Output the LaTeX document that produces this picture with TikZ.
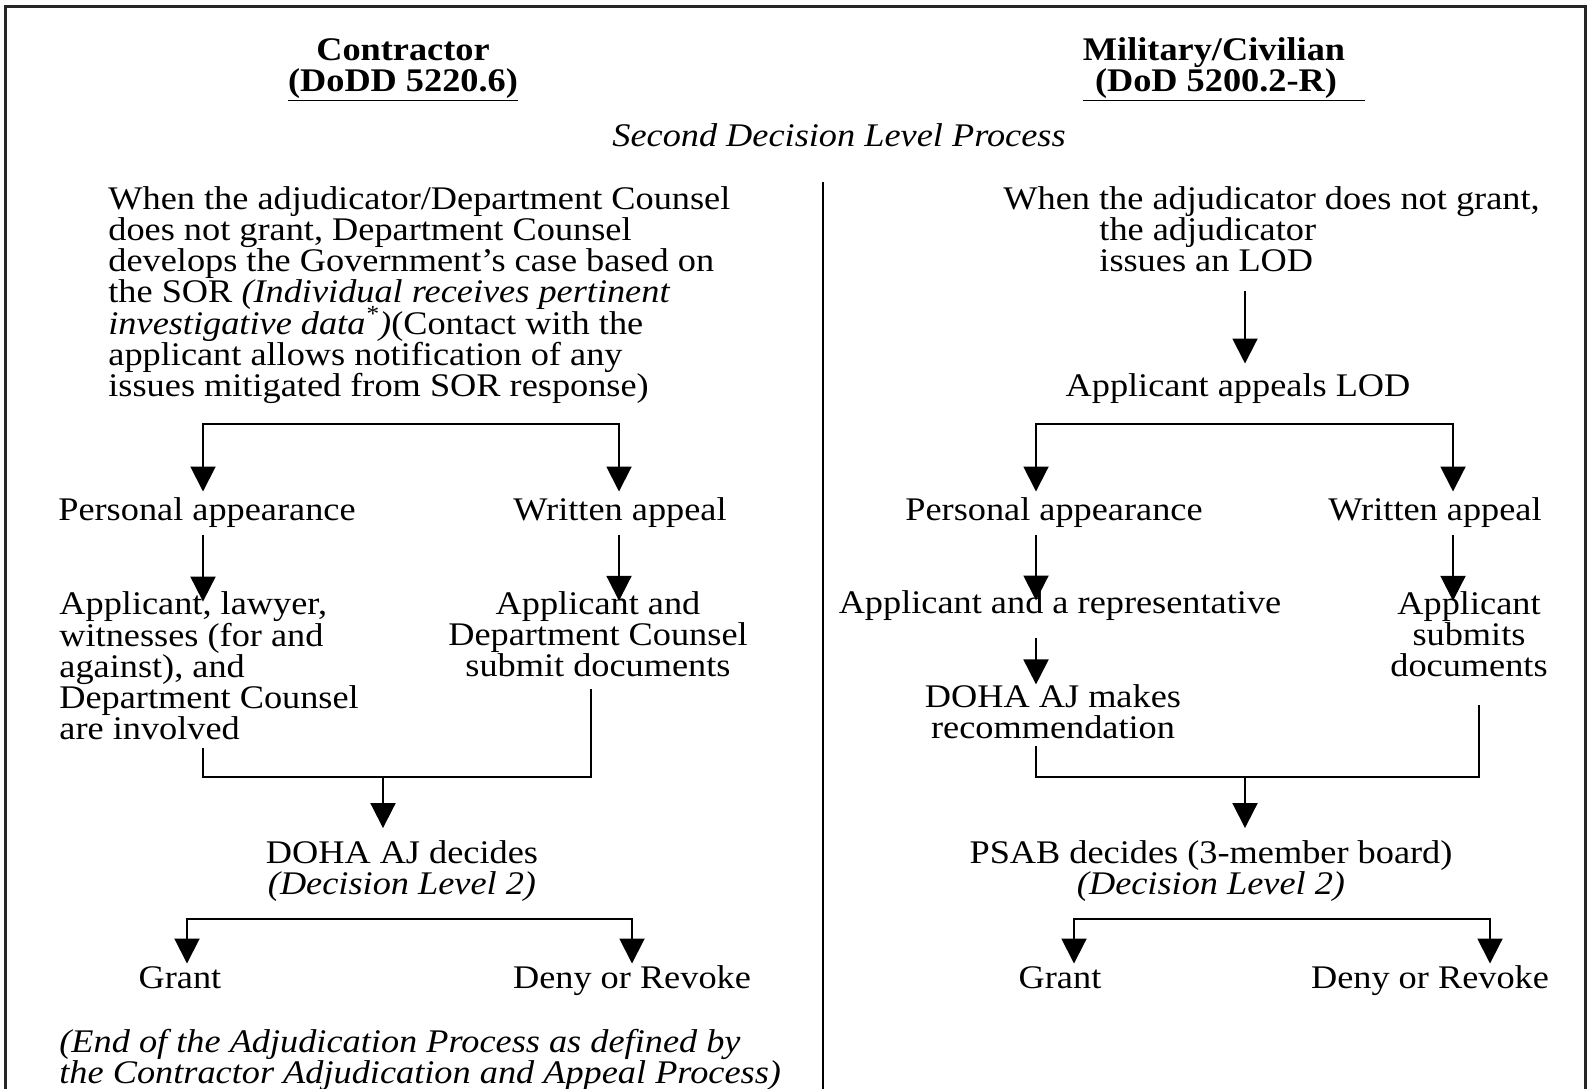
\documentclass[tikz,border=0pt]{standalone}
\usepackage{fontspec}
\setmainfont{Liberation Serif}[FakeStretch=1.1]
\usetikzlibrary{arrows.meta}
\newcommand{\mysz}{\fontsize{16.5pt}{15.6pt}\selectfont\lineskiplimit=-20pt\lineskip=0pt}
\begin{document}
\begin{tikzpicture}[x=0.5pt,y=-0.5pt,
  txt/.style={inner sep=0pt, font=\mysz, align=center},
  sl/.style={txt, text height=11.5pt, text depth=3.6pt},
  ttl/.style={txt, anchor=base, font=\mysz\bfseries},
  ln/.style={line width=1pt, draw=black},
  arr/.style={ln, -{Triangle[width=12.5pt,length=12.5pt]}},
  arrboth/.style={ln, {Triangle[width=12.5pt,length=12.5pt]}-{Triangle[width=12.5pt,length=12.5pt]}},
  frame/.style={line width=1.5pt, draw=black!85}]
\useasboundingbox (0,0) rectangle (1589,1088);
% frame and divider
\draw[frame] (5,1100) -- (5,6) -- (1585,6) -- (1585,1100);
\draw[ln] (823,182) -- (823,1100);
% titles
\node[ttl] (t1) at (403,60) {Contractor};
\node[ttl] (t1b) at (403,91) {\underline{(DoDD 5220.6)}};
\node[ttl] (t2) at (1214,60) {Military/Civilian};
\node[ttl] (t2b) at (1224,91) {\underline{\hspace{6pt}(DoD 5200.2-R)\hspace{14pt}}};
\node[txt, font=\mysz\itshape] (sub) at (839,135) {Second Decision Level Process};
% left column
\node[txt, anchor=west, align=left] (lb) at (108,295) {When the adjudicator/Department Counsel\\does not grant, Department Counsel\\develops the Government’s case based on\\the SOR \textit{(Individual receives pertinent}\\\textit{investigative data\textsuperscript{*})}(Contact with the\\applicant allows notification of any\\issues mitigated from SOR response)};
\node[sl] (pa1) at (207,513) {Personal appearance};
\node[sl] (wa1) at (620,513) {Written appeal};
\node[txt, anchor=west, align=left] (ap1) at (59,666) {Applicant, lawyer,\\witnesses (for and\\against), and\\Department Counsel\\are involved};
\node[txt] (ad1) at (598,634) {Applicant and\\Department Counsel\\submit documents};
\node[txt] (dj1) at (402,871) {DOHA AJ decides\\\textit{(Decision Level 2)}};
\node[sl] (g1) at (180,981) {Grant};
\node[sl] (dr1) at (632,981) {Deny or Revoke};
\node[txt, anchor=west, align=left, font=\mysz\itshape] (end1) at (59,1060) {(End of the Adjudication Process as defined by\\the Contractor Adjudication and Appeal Process)};
% right column
\node[txt, anchor=west, align=left] (rb) at (1003,229) {When the adjudicator does not grant,\\\hspace*{48pt}the adjudicator\\\hspace*{48pt}issues an LOD};
\node[sl] (aa) at (1238,389) {Applicant appeals LOD};
\node[sl] (pa2) at (1054,513) {Personal appearance};
\node[sl] (wa2) at (1435,513) {Written appeal};
\node[sl] (ar2) at (1060,606) {Applicant and a representative};
\node[txt] (as2) at (1469,634) {Applicant\\submits\\documents};
\node[txt] (dm2) at (1053,712) {DOHA AJ makes\\recommendation};
\node[txt] (ps2) at (1211,871) {PSAB decides (3-member board)\\\textit{(Decision Level 2)}};
\node[sl] (g2) at (1060,981) {Grant};
\node[sl] (dr2) at (1430,981) {Deny or Revoke};
% coordinates
\coordinate (bl1) at (203,424);
\coordinate (br1) at (619,424);
\coordinate (m1L) at (203,777);
\coordinate (m1R) at (591,777);
\coordinate (m1) at (383,777);
\coordinate (gl1) at (187,919);
\coordinate (gr1) at (632,919);
\coordinate (r0) at (1245,291);
\coordinate (bl2) at (1036,424);
\coordinate (br2) at (1453,424);
\coordinate (m2L) at (1036,777);
\coordinate (m2R) at (1479,777);
\coordinate (m2) at (1245,777);
\coordinate (gl2) at (1074,919);
\coordinate (gr2) at (1490,919);
% left connectors
\draw[arrboth] ([yshift=3pt]pa1.north -| bl1) -- (bl1) -- (br1) -- ([yshift=3pt]wa1.north -| br1);
\draw[arr, shorten <=3pt] (pa1.south -| bl1) -- ([yshift=-5pt]ap1.north -| bl1);
\draw[arr, shorten <=3pt] (wa1.south -| br1) -- ([yshift=-5pt]ad1.north -| br1);
\draw[ln, shorten <=4pt] (ap1.south -| m1L) -- (m1L) -- (m1R) -- ([yshift=-6pt]ad1.south -| m1R);
\draw[arr] (m1) -- ([yshift=6pt]dj1.north -| m1);
\draw[arrboth] ([yshift=1pt]g1.north -| gl1) -- (gl1) -- (gr1) -- ([yshift=1pt]dr1.north -| gr1);
% right connectors
\draw[arr] (r0) -- ([yshift=5pt]aa.north -| r0);
\draw[arrboth] ([yshift=3pt]pa2.north -| bl2) -- (bl2) -- (br2) -- ([yshift=3pt]wa2.north -| br2);
\draw[arr, shorten <=3pt] (pa2.south -| bl2) -- ([yshift=-5pt]ar2.north -| bl2);
\draw[arr, shorten <=3pt] (wa2.south -| br2) -- ([yshift=-5pt]as2.north -| br2);
\draw[arr, shorten <=8pt] (ar2.south -| bl2) -- (dm2.north -| bl2);
\draw[ln] ([yshift=-3pt]dm2.south -| m2L) -- (m2L) -- (m2R) -- ([yshift=-14pt]as2.south -| m2R);
\draw[arr] (m2) -- ([yshift=6pt]ps2.north -| m2);
\draw[arrboth] ([yshift=1pt]g2.north -| gl2) -- (gl2) -- (gr2) -- ([yshift=1pt]dr2.north -| gr2);
\end{tikzpicture}
\end{document}
